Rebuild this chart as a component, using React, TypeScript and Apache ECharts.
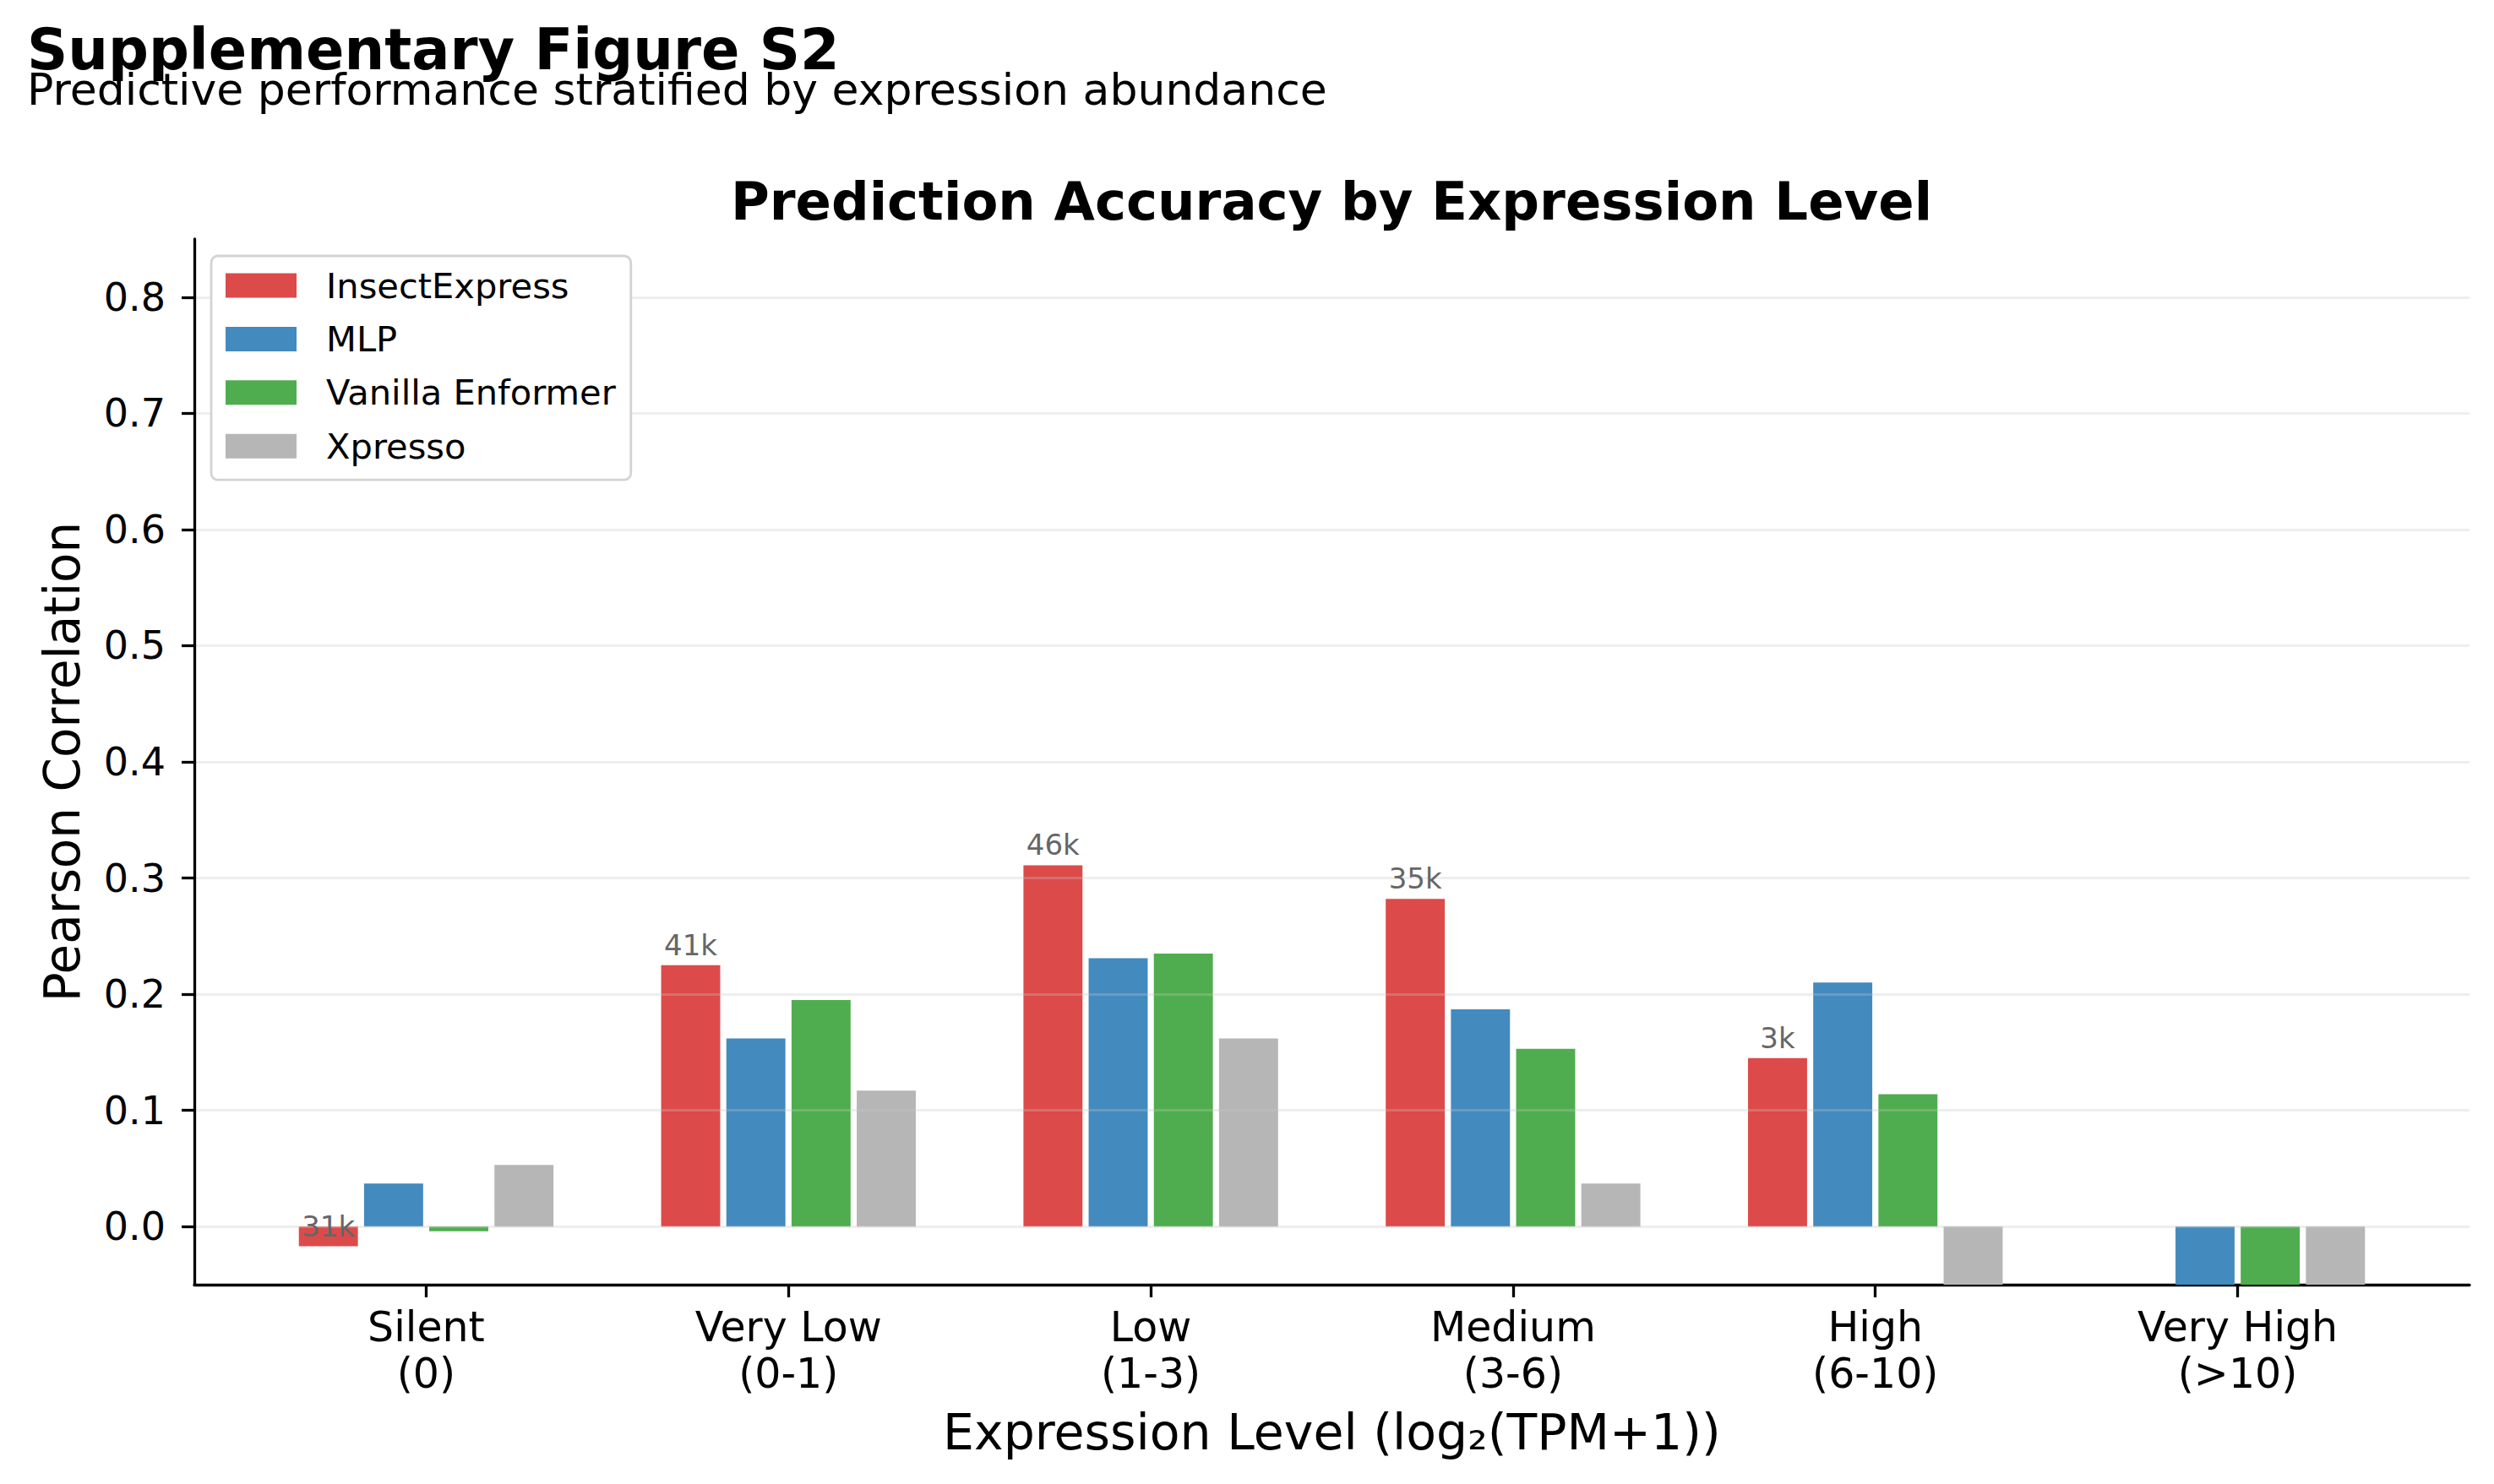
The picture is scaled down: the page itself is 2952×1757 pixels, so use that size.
import React, { useEffect, useRef } from 'react';
import * as echarts from 'echarts';

// ---- data ----
const categories = ['Silent\n(0)', 'Very Low\n(0-1)', 'Low\n(1-3)', 'Medium\n(3-6)', 'High\n(6-10)', 'Very High\n(>10)'];
const seriesNames = ['InsectExpress', 'MLP', 'Vanilla Enformer', 'Xpresso'];
const insectExpress = [-0.017, 0.225, 0.311, 0.282, 0.145, null];
const mlp = [0.037, 0.162, 0.231, 0.187, 0.21, -0.07];
const vanillaEnformer = [-0.004, 0.195, 0.235, 0.153, 0.114, -0.07];
const xpresso = [0.053, 0.117, 0.162, 0.037, -0.07, -0.07];
const sampleCounts = ['31k', '41k', '46k', '35k', '3k', null];
const yTicks = [0, 0.1, 0.2, 0.3, 0.4, 0.5, 0.6, 0.7, 0.8];
const xTicks = [0, 1, 2, 3, 4, 5];

const seriesValues = [insectExpress, mlp, vanillaEnformer, xpresso];
const colors = ['#DC4A4A', '#438ABE', '#4FAD4F', '#B6B6B6'];

const FONT = '"DejaVu Sans", sans-serif';
const BAR_W = 0.163; // fraction of category spacing
const BAR_STEP = 0.18; // center-to-center distance between bars

export default function App() {
  const ref = useRef<HTMLDivElement>(null);

  useEffect(() => {
    if (!ref.current) return;
    const chart = echarts.init(ref.current, undefined, { renderer: 'svg' });

    const labelIdx = sampleCounts.map((c, i) => (c ? i : -1)).filter((i) => i >= 0);

    const barSeries = seriesNames.map((name, s) => ({
      name,
      type: 'bar',
      data: seriesValues[s].map((v, i) => [i, v === null ? '-' : v]),
      barWidth: (BAR_W * 100).toFixed(2) + '%',
      barGap: (((BAR_STEP - BAR_W) / BAR_W) * 100).toFixed(1) + '%',
      itemStyle: { color: colors[s] },
      clip: true,
      z: 2,
    }));

    const option: any = {
      animation: false,
      backgroundColor: '#ffffff',
      textStyle: { fontFamily: FONT },
      graphic: [
        {
          type: 'text',
          x: 32,
          y: 58.8,
          style: { text: 'Supplementary Figure S2', fontSize: 67, fontWeight: 'bold', fontFamily: FONT, fill: '#000', align: 'left', verticalAlign: 'middle' },
        },
        {
          type: 'text',
          x: 32,
          y: 106,
          style: { text: 'Predictive performance stratified by expression abundance', fontSize: 52, fontFamily: FONT, fill: '#000', align: 'left', verticalAlign: 'middle' },
        },
        {
          type: 'text',
          x: 1576,
          y: 238.4,
          style: { text: 'Prediction Accuracy by Expression Level', fontSize: 62.5, fontWeight: 'bold', fontFamily: FONT, fill: '#000', align: 'center', verticalAlign: 'middle' },
        },
      ],
      grid: { left: 230, right: 29, top: 283, bottom: 236, containLabel: false },
      legend: {
        orient: 'vertical',
        left: 250,
        top: 303,
        icon: 'rect',
        itemWidth: 84,
        itemHeight: 29,
        itemGap: 21.4,
        padding: [14, 18, 19, 17],
        backgroundColor: '#ffffff',
        borderColor: '#d3d3d3',
        borderWidth: 2.8,
        borderRadius: 8,
        textStyle: { fontSize: 41.6, fontFamily: FONT, color: '#000', padding: [0, 0, 0, 30] },
        data: seriesNames,
        z: 10,
      },
      xAxis: {
        type: 'value',
        min: -0.64,
        max: 5.64,
        name: 'Expression Level (log\u2082(TPM+1))',
        nameLocation: 'middle',
        nameGap: 146,
        nameTextStyle: { fontSize: 58.5, fontFamily: FONT, color: '#000', lineHeight: 58 },
        axisLine: { show: true, onZero: false, lineStyle: { color: '#000', width: 3.3 } },
        axisTick: { show: true, customValues: xTicks, length: 15, inside: false, lineStyle: { color: '#000', width: 3.3 } },
        axisLabel: {
          show: true,
          customValues: xTicks,
          formatter: (v: number) => categories[Math.round(v)] ?? '',
          fontSize: 49,
          lineHeight: 55,
          fontFamily: FONT,
          color: '#000',
          margin: 23,
        },
        splitLine: { show: false },
      },
      yAxis: {
        type: 'value',
        min: -0.05,
        max: 0.85,
        z: 3,
        name: 'Pearson Correlation',
        nameLocation: 'middle',
        nameGap: 127,
        nameRotate: 90,
        nameTextStyle: { fontSize: 58, fontFamily: FONT, color: '#000', lineHeight: 58 },
        axisLine: { show: true, onZero: false, lineStyle: { color: '#000', width: 3.3 } },
        axisTick: { show: true, customValues: yTicks, length: 15, inside: false, lineStyle: { color: '#000', width: 3.3 } },
        axisLabel: {
          show: true,
          customValues: yTicks,
          formatter: (v: number) => v.toFixed(1),
          fontSize: 46,
          fontFamily: FONT,
          color: '#000',
          margin: 34,
        },
        splitLine: { show: true, lineStyle: { color: 'rgba(200,200,200,0.3)', width: 3 } },
      },
      series: [
        ...barSeries,
        {
          name: 'counts',
          type: 'custom',
          silent: true,
          z: 5,
          data: labelIdx.map((i) => [i, insectExpress[i] as number]),
          renderItem: (params: any, api: any) => {
            const p = api.coord([api.value(0), api.value(1)]);
            const unit = api.size([1, 0])[0];
            const txt = sampleCounts[labelIdx[params.dataIndex]] as string;
            return {
              type: 'text',
              x: p[0] - 1.5 * BAR_STEP * unit,
              y: p[1] - 24,
              style: { text: txt, fontSize: 34, fontFamily: FONT, fill: '#666666', align: 'center', verticalAlign: 'middle' },
            };
          },
        },
      ],
    };

    chart.setOption(option);
    return () => chart.dispose();
  }, []);

  return <div ref={ref} style={{ position: 'absolute', left: 0, top: 0, width: 2952, height: 1757, background: '#fff' }} />;
}
